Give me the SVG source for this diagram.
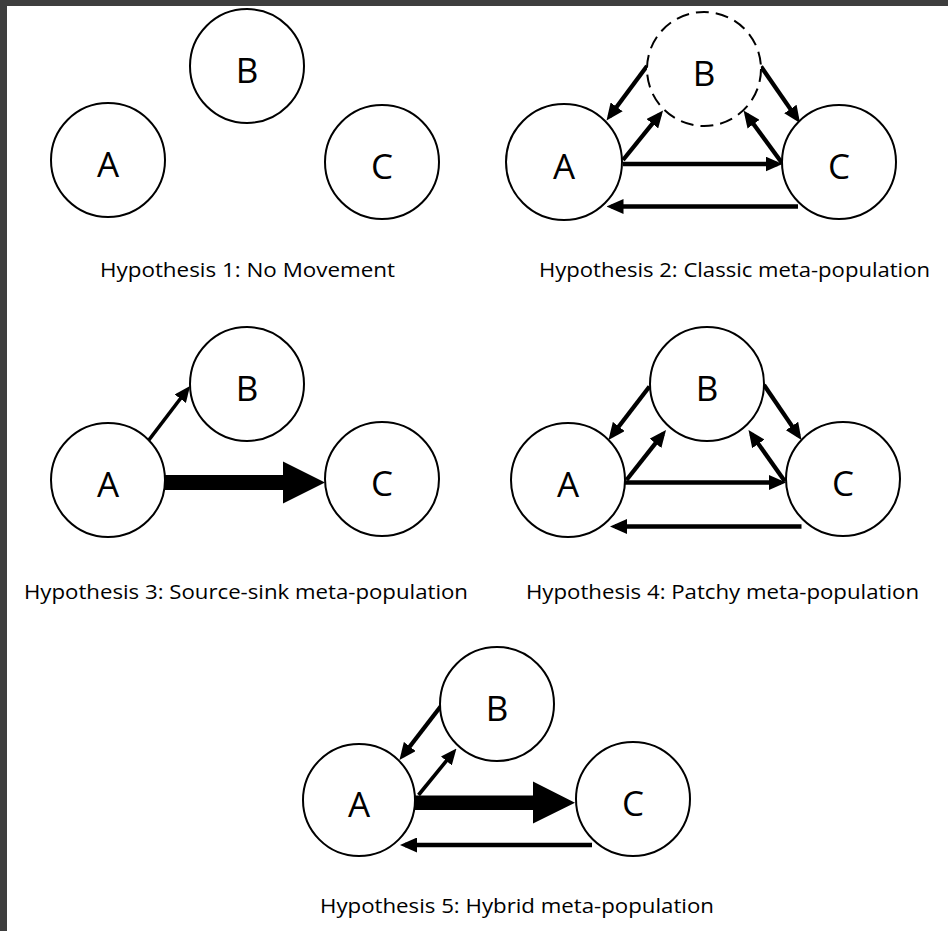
<svg xmlns="http://www.w3.org/2000/svg" width="948" height="931" viewBox="0 0 948 931">
  <style>
    .node circle { fill: #ffffff; stroke: #000000; stroke-width: 2; }
    .node.dashed circle { stroke-dasharray: 13 7; }
    .node text { font-family: "Open Sans", "Liberation Sans", Arial, sans-serif; font-size: 35px; text-anchor: middle; fill: #000000; }
    .caption { font-family: "Open Sans", "Liberation Sans", Arial, sans-serif; font-size: 20px; text-anchor: middle; fill: #000000; }
    .link { stroke: #000000; stroke-width: 4.3; fill: none; marker-end: url(#head); }
    .link.thin { stroke-width: 3.6; marker-end: url(#headSmall); }
    .bulk { fill: #000000; stroke: none; }
  </style>
  <defs>
    <marker id="head" viewBox="0 0 17 15" refX="12" refY="7.5" markerWidth="17" markerHeight="15" markerUnits="userSpaceOnUse" orient="auto">
      <path d="M0,0 L17,7.5 L0,15 Z" fill="#000000"/>
    </marker>
    <marker id="headSmall" viewBox="0 0 16 14" refX="11" refY="7" markerWidth="16" markerHeight="14" markerUnits="userSpaceOnUse" orient="auto">
      <path d="M0,0 L16,7 L0,14 Z" fill="#000000"/>
    </marker>
  </defs>

  <!-- page background and dark frame edges -->
  <rect x="0" y="0" width="948" height="931" fill="#ffffff"/>
  <rect x="0" y="0" width="948" height="6" fill="#3e3e3e"/>
  <rect x="0" y="0" width="7" height="931" fill="#3e3e3e"/>

  <!-- connectors -->
  <g id="connectors">
    <!-- Hypothesis 2 -->
    <line class="link" x1="647" y1="66" x2="609.5" y2="116.5"/>
    <line class="link" x1="623" y1="160" x2="659.9" y2="114.4"/>
    <line class="link" x1="623" y1="164" x2="777.5" y2="164"/>
    <line class="link" x1="761" y1="66.5" x2="797.2" y2="118.9"/>
    <line class="link" x1="782" y1="163" x2="746.5" y2="114.5"/>
    <line class="link" x1="798" y1="206.5" x2="611.5" y2="206.5"/>
    <!-- Hypothesis 3 -->
    <line class="link thin" x1="148.5" y1="440.5" x2="187" y2="390"/>
    <polygon class="bulk" points="165,475 283,475 283,461.5 325,482.5 283,503.5 283,490 165,490"/>
    <!-- Hypothesis 4 -->
    <line class="link" x1="649.5" y1="386.5" x2="611.5" y2="436"/>
    <line class="link" x1="626.5" y1="480" x2="662.9" y2="433.9"/>
    <line class="link" x1="625" y1="482.5" x2="781" y2="482.5"/>
    <line class="link" x1="764" y1="385" x2="798.7" y2="435.9"/>
    <line class="link" x1="785" y1="481.5" x2="751.4" y2="434.1"/>
    <line class="link" x1="801.5" y1="526.5" x2="615" y2="526.5"/>
    <!-- Hypothesis 5 -->
    <line class="link" x1="441" y1="706" x2="402.5" y2="756"/>
    <line class="link thin" x1="418.5" y1="795" x2="453.3" y2="752.4"/>
    <polygon class="bulk" points="415,795.5 533,795.5 533,781.5 575,802.7 533,823.5 533,810 415,810"/>
    <line class="link" x1="592" y1="845" x2="405" y2="845"/>
  </g>

  <!-- Hypothesis 1: No Movement -->
  <g id="h1-A" class="node"><circle cx="108" cy="160" r="57"/><text x="108" y="177">A</text></g>
  <g id="h1-B" class="node"><circle cx="247" cy="66" r="57"/><text x="247" y="83">B</text></g>
  <g id="h1-C" class="node"><circle cx="382" cy="162" r="57"/><text x="382" y="179">C</text></g>
  <text class="caption" x="247.5" y="277" textLength="295" lengthAdjust="spacingAndGlyphs">Hypothesis 1: No Movement</text>

  <!-- Hypothesis 2: Classic meta-population -->
  <g id="h2-A" class="node"><circle cx="564" cy="162" r="58"/><text x="564" y="179">A</text></g>
  <g id="h2-B" class="node dashed"><circle cx="704" cy="69" r="57"/><text x="704" y="86">B</text></g>
  <g id="h2-C" class="node"><circle cx="839" cy="162" r="57"/><text x="839" y="179">C</text></g>
  <text class="caption" x="734.5" y="277" textLength="391" lengthAdjust="spacingAndGlyphs">Hypothesis 2: Classic meta-population</text>

  <!-- Hypothesis 3: Source-sink meta-population -->
  <g id="h3-A" class="node"><circle cx="108" cy="480" r="57"/><text x="108" y="497">A</text></g>
  <g id="h3-B" class="node"><circle cx="247" cy="384" r="57"/><text x="247" y="401">B</text></g>
  <g id="h3-C" class="node"><circle cx="382" cy="479" r="57"/><text x="382" y="496">C</text></g>
  <text class="caption" x="246" y="599" textLength="444" lengthAdjust="spacingAndGlyphs">Hypothesis 3: Source-sink meta-population</text>

  <!-- Hypothesis 4: Patchy meta-population -->
  <g id="h4-A" class="node"><circle cx="568" cy="480" r="57"/><text x="568" y="497">A</text></g>
  <g id="h4-B" class="node"><circle cx="707" cy="384" r="57"/><text x="707" y="401">B</text></g>
  <g id="h4-C" class="node"><circle cx="843" cy="479" r="57"/><text x="843" y="496">C</text></g>
  <text class="caption" x="722.5" y="599" textLength="393" lengthAdjust="spacingAndGlyphs">Hypothesis 4: Patchy meta-population</text>

  <!-- Hypothesis 5: Hybrid meta-population -->
  <g id="h5-A" class="node"><circle cx="359" cy="800" r="56"/><text x="359" y="817">A</text></g>
  <g id="h5-B" class="node"><circle cx="497" cy="704" r="57"/><text x="497" y="721">B</text></g>
  <g id="h5-C" class="node"><circle cx="633" cy="799" r="57"/><text x="633" y="816">C</text></g>
  <text class="caption" x="517" y="913" textLength="394" lengthAdjust="spacingAndGlyphs">Hypothesis 5: Hybrid meta-population</text>
</svg>
